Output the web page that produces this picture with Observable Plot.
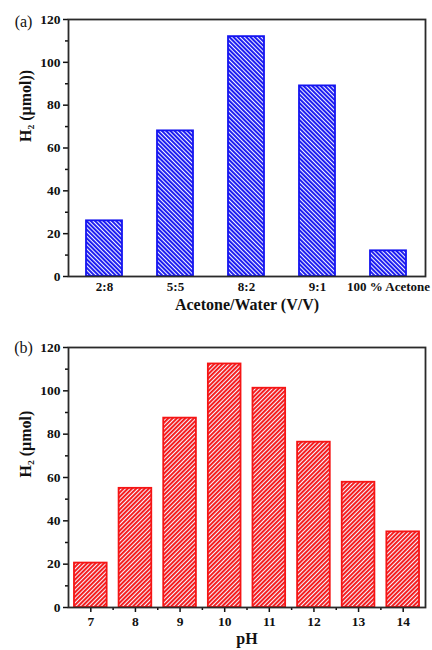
<!DOCTYPE html>
<html>
<head>
<meta charset="utf-8">
<script src="https://cdn.jsdelivr.net/npm/d3@7"></script>
<script src="https://cdn.jsdelivr.net/npm/@observablehq/plot@0.6"></script>
<style>
  html, body { margin: 0; padding: 0; background: #fff; }
  #wrap { width: 432px; }
  svg { display: block; }
</style>
</head>
<body>
<div id="wrap"></div>
<script>
// ---- data ----
const ratioCategories = ["2:8", "5:5", "8:2", "9:1", "100 % Acetone"];
const ratioValues = [26, 68, 112, 89, 12];
const phCategories = [7, 8, 9, 10, 11, 12, 13, 14];
const phValues = [20.5, 55, 87.4, 112.4, 101.2, 76.3, 57.8, 34.9];
const yTicks = [0, 20, 40, 60, 80, 100, 120];
const yMinorTicks = [10, 30, 50, 70, 90, 110];
const phMinorTicks = [7.5, 8.5, 9.5, 10.5, 11.5, 12.5, 13.5];
const yTitleA = "H\u2082 (\u03bcmol))";
const yTitleB = "H\u2082 (\u03bcmol)";
const xTitleA = "Acetone/Water (V/V)";
const xTitleB = "pH";

const blue = "#1414f0";
const red = "#f51515";
const frameColor = "#2a2a2a";
const font = "'Liberation Serif', 'Times New Roman', serif";

const dataA = ratioCategories.map((c, i) => ({cat: c, val: ratioValues[i]}));
const dataB = phCategories.map((p, i) => ({ph: p, val: phValues[i]}));

function addPattern(svg, id, color, angle) {
  const ns = "http://www.w3.org/2000/svg";
  const defs = document.createElementNS(ns, "defs");
  const pat = document.createElementNS(ns, "pattern");
  pat.setAttribute("id", id);
  pat.setAttribute("patternUnits", "userSpaceOnUse");
  pat.setAttribute("width", "3");
  pat.setAttribute("height", "3");
  pat.setAttribute("patternTransform", `rotate(${angle})`);
  const bg = document.createElementNS(ns, "rect");
  bg.setAttribute("width", "3"); bg.setAttribute("height", "3"); bg.setAttribute("fill", "#f4f4ff");
  const st = document.createElementNS(ns, "rect");
  st.setAttribute("width", "1.9"); st.setAttribute("height", "3"); st.setAttribute("fill", color);
  pat.appendChild(bg); pat.appendChild(st); defs.appendChild(pat);
  svg.insertBefore(defs, svg.firstChild);
}

const common = {
  width: 432,
  marginLeft: 68,
  marginRight: 7,
  style: {fontFamily: font, fontSize: "13px", fontWeight: "bold", background: "#fff", color: "#111"}
};

// ---- panel (a) ----
const svgA = Plot.plot({
  ...common,
  height: 318,
  marginTop: 19,
  marginBottom: 42,
  x: {type: "band", domain: ratioCategories, paddingInner: 0.49, paddingOuter: 0.245},
  y: {domain: [0, 120]},
  marks: [
    Plot.barY(dataA, {x: "cat", y: "val", fill: "url(#hatchBlue)", stroke: blue, strokeWidth: 1.8}),
    Plot.axisY({ticks: yTicks, tickSize: 5, tickPadding: 3, strokeWidth: 1.5, label: null, fontSize: 13.5}),
    Plot.axisY({ticks: yMinorTicks, tickSize: 3, tickFormat: () => "", strokeWidth: 1.5, label: null}),
    Plot.axisX({tickSize: 0, tickPadding: 5, label: null, fontSize: 13}),
    Plot.frame({stroke: frameColor, strokeWidth: 1.8}),
    Plot.text([yTitleA], {frameAnchor: "left", rotate: -90, dx: -43, dy: -6, fontSize: 16, fontWeight: "bold"}),
    Plot.text([xTitleA], {frameAnchor: "bottom", dy: 33, fontSize: 16, fontWeight: "bold"}),
    Plot.text(["(a)"], {frameAnchor: "top-left", dx: -45, dy: -4, textAnchor: "middle", fontSize: 16, fontWeight: "normal"})
  ]
});
addPattern(svgA, "hatchBlue", blue, -45);

// ---- panel (b) ----
const svgB = Plot.plot({
  ...common,
  height: 332,
  marginTop: 29,
  marginBottom: 43,
  x: {type: "linear", domain: [6.5, 14.5]},
  y: {domain: [0, 120]},
  marks: [
    Plot.rectY(dataB, {x1: d => d.ph - 0.366, x2: d => d.ph + 0.366, y: "val", fill: "url(#hatchRed)", stroke: red, strokeWidth: 1.8}),
    Plot.axisY({ticks: yTicks, tickSize: 5, tickPadding: 3, strokeWidth: 1.5, label: null, fontSize: 13.5}),
    Plot.axisY({ticks: yMinorTicks, tickSize: 3, tickFormat: () => "", strokeWidth: 1.5, label: null}),
    Plot.axisX({ticks: phCategories, tickSize: 5, tickPadding: 4, strokeWidth: 1.5, label: null, fontSize: 13.5}),
    Plot.axisX({ticks: phMinorTicks, tickSize: 3, tickFormat: () => "", strokeWidth: 1.5, label: null}),
    Plot.frame({stroke: frameColor, strokeWidth: 1.8}),
    Plot.text([yTitleB], {frameAnchor: "left", rotate: -90, dx: -43, dy: 0, fontSize: 16, fontWeight: "bold"}),
    Plot.text([xTitleB], {frameAnchor: "bottom", dy: 36, fontSize: 16, fontWeight: "bold"}),
    Plot.text(["(b)"], {frameAnchor: "top-left", dx: -45, dy: -6, textAnchor: "middle", fontSize: 16, fontWeight: "normal"})
  ]
});
addPattern(svgB, "hatchRed", red, 45);

document.getElementById("wrap").appendChild(svgA);
document.getElementById("wrap").appendChild(svgB);
</script>
</body>
</html>
